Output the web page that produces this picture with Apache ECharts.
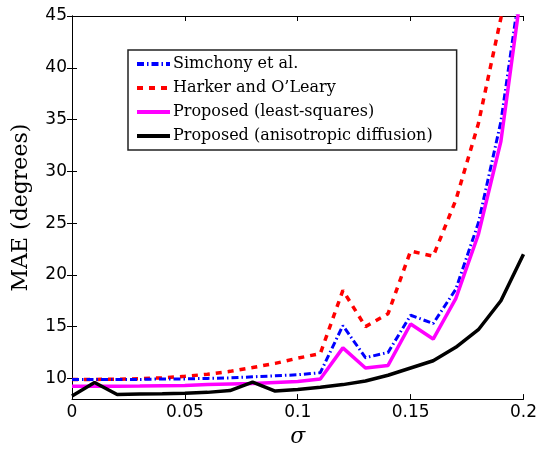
<!DOCTYPE html>
<html>
<head>
<meta charset="utf-8">
<script src="https://cdn.jsdelivr.net/npm/echarts@6/dist/echarts.min.js"></script>
<style>
html,body{margin:0;padding:0;background:#fff;}
#chart{width:540px;height:453px;}
</style>
</head>
<body>
<div id="chart"></div>
<script>
const sigma = [0, 0.01, 0.02, 0.03, 0.04, 0.05, 0.06, 0.07, 0.08, 0.09, 0.10, 0.11, 0.12, 0.13, 0.14, 0.15, 0.16, 0.17, 0.18, 0.19, 0.20];
const simchony = [9.9, 9.9, 9.9, 9.9, 9.95, 9.95, 10.0, 10.05, 10.15, 10.25, 10.35, 10.55, 15.1, 12.0, 12.5, 16.1, 15.3, 18.6, 25.0, 34.8, 50];
const harker = [9.9, 9.9, 9.92, 9.97, 10.05, 10.2, 10.4, 10.68, 11.05, 11.45, 11.95, 12.4, 18.5, 15.0, 16.25, 22.3, 21.8, 27.2, 34.6, 44.8, 58];
const leastSquares = [9.25, 9.25, 9.25, 9.27, 9.3, 9.32, 9.4, 9.45, 9.5, 9.6, 9.7, 9.95, 12.95, 11.0, 11.25, 15.25, 13.8, 17.7, 23.9, 32.9, 49];
const anisotropic = [8.3, 9.6, 8.45, 8.5, 8.52, 8.57, 8.65, 8.82, 9.65, 8.78, 8.92, 9.15, 9.4, 9.75, 10.3, 11.0, 11.7, 13.0, 14.7, 17.5, 22.0];
const seriesNames = ['Simchony et al.', 'Harker and O\u2019Leary', 'Proposed (least-squares)', 'Proposed (anisotropic diffusion)'];
const yTicks = [10, 15, 20, 25, 30, 35, 40, 45];

function pairs(ys){ return sigma.map((s,i)=>[s, ys[i]]); }

const chart = echarts.init(document.getElementById('chart'), null, {renderer:'canvas'});
const tickFont = {fontFamily:'DejaVu Sans', fontSize:17, color:'#000'};
const axisLine = {show:true, lineStyle:{color:'#000', width:1}};
const option = {
  animation:false,
  backgroundColor:'#fff',
  grid:{left:72, right:15, top:16, bottom:51, containLabel:false},
  xAxis:[{
    type:'value', min:0, max:0.2, interval:0.05, position:'bottom',
    axisLine:axisLine,
    axisTick:{show:true, inside:true, length:5, lineStyle:{color:'#000'}},
    axisLabel:Object.assign({margin:5, formatter:v=>String(+v.toFixed(2))}, tickFont),
    splitLine:{show:false},
    name:'\u03c3', nameLocation:'middle', nameGap:26,
    nameTextStyle:{fontFamily:'DejaVu Serif', fontStyle:'italic', fontSize:22, color:'#000'}
  },{
    type:'value', min:0, max:0.2, interval:0.05, position:'top',
    axisLine:axisLine,
    axisTick:{show:true, inside:true, length:5, lineStyle:{color:'#000'}},
    axisLabel:{show:false}, splitLine:{show:false}
  }],
  yAxis:[{
    type:'value', min:8, max:45, position:'left',
    axisLine:axisLine,
    axisTick:{show:true, inside:true, length:5, lineStyle:{color:'#000'}, customValues:yTicks},
    axisLabel:Object.assign({margin:5, customValues:yTicks}, tickFont),
    splitLine:{show:false},
    name:'MAE (degrees)', nameLocation:'middle', nameGap:40,
    nameTextStyle:{fontFamily:'DejaVu Serif', fontSize:22, color:'#000'}
  },{
    type:'value', min:8, max:45, position:'right',
    axisLine:axisLine,
    axisTick:{show:true, inside:true, length:5, lineStyle:{color:'#000'}, customValues:yTicks},
    axisLabel:{show:false, customValues:yTicks}, splitLine:{show:false}
  }],
  legend:{
    orient:'vertical', left:128, top:50,
    padding:[6, 24, 6, 7],
    itemWidth:33, itemHeight:16, itemGap:8,
    borderColor:'#222', borderWidth:1.5, backgroundColor:'#fff',
    itemStyle:{opacity:0},
    lineStyle:{width:4},
    textStyle:{fontFamily:'DejaVu Serif', fontSize:16, color:'#000', lineHeight:16, padding:[0,0,0,-2]},
    data:seriesNames
  },
  series:[
    {name:seriesNames[0], type:'line', data:pairs(simchony), showSymbol:false, symbol:'none', clip:true,
     lineStyle:{color:'#0000ff', width:3, type:[7,3,1.5,3]}, itemStyle:{color:'#0000ff'}, z:3},
    {name:seriesNames[1], type:'line', data:pairs(harker), showSymbol:false, symbol:'none', clip:true,
     lineStyle:{color:'#ff0000', width:3.5, type:[6,6]}, itemStyle:{color:'#ff0000'}, z:2},
    {name:seriesNames[2], type:'line', data:pairs(leastSquares), showSymbol:false, symbol:'none', clip:true,
     lineStyle:{color:'#ff00ff', width:3.5, type:'solid'}, itemStyle:{color:'#ff00ff'}, z:4},
    {name:seriesNames[3], type:'line', data:pairs(anisotropic), showSymbol:false, symbol:'none', clip:true,
     lineStyle:{color:'#000000', width:3.5, type:'solid'}, itemStyle:{color:'#000000'}, z:5}
  ]
};
chart.setOption(option);
</script>
</body>
</html>
